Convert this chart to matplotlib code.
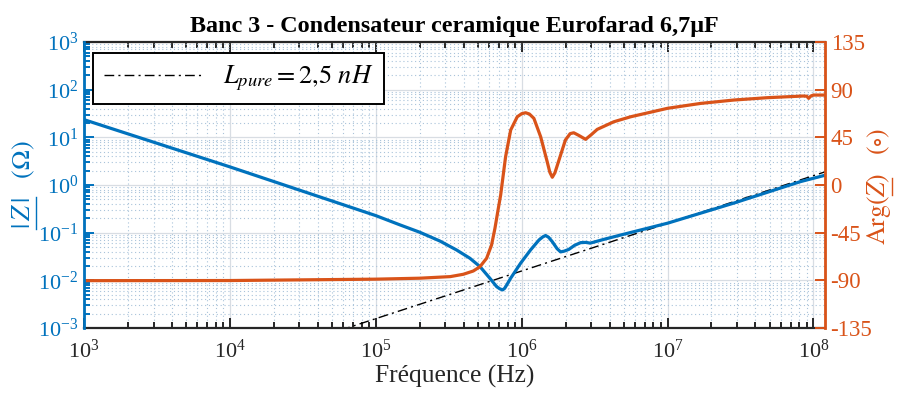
import numpy as np
import matplotlib
matplotlib.use('Agg')
import matplotlib.pyplot as plt
from matplotlib.lines import Line2D
from matplotlib.ticker import FixedLocator, FuncFormatter, LogLocator, NullFormatter

# |Z| (Ohm) versus frequency (Hz)
freq_mag = [1e3, 1e4, 1e5, 1.47e5, 2.01e5, 2.75e5, 3.58e5, 4.42e5, 5.18e5, 6.06e5,
            6.73e5, 7.1e5, 7.41e5, 7.65e5, 7.9e5, 8.41e5, 9.84e5, 1.153e6, 1.318e6,
            1.40e6, 1.459e6, 1.53e6, 1.622e6, 1.75e6, 1.849e6, 1.96e6, 2.109e6, 2.3e6,
            2.535e6, 2.75e6, 2.951e6, 3.664e6, 4.764e6, 1e7, 2.844e7, 8.128e7, 1.2e8]
mag = [23.5, 2.4, 0.228, 0.145, 0.1016, 0.0668, 0.0433, 0.029, 0.0194, 0.011,
       0.0074, 0.0066, 0.0063, 0.0068, 0.0080, 0.0111, 0.0229, 0.0437, 0.0708,
       0.082, 0.0871, 0.080, 0.0646, 0.046, 0.0395, 0.041, 0.0447, 0.054,
       0.0617, 0.0625, 0.0603, 0.0724, 0.0891, 0.158, 0.417, 1.175, 1.60]

# Arg(Z) (degrees) versus frequency (Hz)
freq_arg = [1e3, 1e4, 1e5, 2e5, 3.24e5, 3.98e5, 4.66e5, 5.18e5, 5.75e5, 6.22e5,
            6.56e5, 6.92e5, 7.18e5, 7.76e5, 8.41e5, 9.33e5, 1.0e6, 1.064e6, 1.13e6,
            1.213e6, 1.349e6, 1.496e6, 1.56e6, 1.622e6, 1.69e6, 1.803e6, 1.995e6,
            2.15e6, 2.275e6, 2.45e6, 2.742e6, 3.0e6, 3.296e6, 4.285e6, 5.585e6, 1e7,
            1.683e7, 2.844e7, 4.808e7, 8.51e7, 9.0e7, 9.27e7, 9.6e7, 1e8, 1.2e8]
arg = [-90.3, -90.2, -88.9, -88.0, -86.5, -84.3, -81.2, -77.1, -69.2, -56.6,
       -40.9, -22.0, -9.4, 26.7, 51.9, 64.4, 67.3, 68.2, 67.0,
       62.9, 45.6, 22.0, 12.0, 7.3, 11.5, 23.6, 42.5,
       48.5, 49.3, 47.0, 43.1, 47.5, 52.5, 59.7, 64.4, 72.4,
       77.0, 80.2, 82.4, 84.0, 83.8, 81.8, 84.0, 84.9, 84.9]

# pure inductance reference
L_pure = 2.5e-9
freq_L = np.array([1e3, 1.2e8])

blue = '#0072BD'
orange = '#D95319'
grey = '#262626'

plt.rcParams['font.family'] = ['Liberation Serif', 'DejaVu Serif']
plt.rcParams['mathtext.fontset'] = 'stix'

fig = plt.figure(figsize=(8.99, 3.98), dpi=100)
ax = fig.add_axes([0.0934, 0.1759, 0.8243, 0.7186])
ax2 = ax.twinx()

ax.set_xscale('log')
ax.set_yscale('log')
ax.set_xlim(1e3, 1.2e8)
ax.set_ylim(1e-3, 1e3)

# grid
ax.grid(True, which='major', color='#d8dde3', linewidth=0.9)
ax.grid(True, which='minor', color='#a9c3da', linestyle=(0, (1, 2.5)), linewidth=0.8)
ax.set_axisbelow(True)

line_L, = ax.plot(freq_L, 2 * np.pi * freq_L * L_pure, color='black', linewidth=1.0,
                  linestyle=(0, (7, 3, 1.5, 3)))
ax.plot(freq_mag, mag, color=blue, linewidth=2.3)

ax2.plot(freq_arg, arg, color=orange, linewidth=2.3)
ax2.set_ylim(-135, 135)
ax2.yaxis.set_major_locator(FixedLocator([-135, -90, -45, 0, 45, 90, 135]))
ax2.yaxis.set_major_formatter(FuncFormatter(lambda v, p: '%d' % v))

# ticks
ax.xaxis.set_major_locator(LogLocator(base=10, numticks=10))
ax.xaxis.set_minor_locator(LogLocator(base=10, subs=np.arange(2, 10), numticks=20))
ax.yaxis.set_major_locator(LogLocator(base=10, numticks=10))
ax.yaxis.set_minor_locator(LogLocator(base=10, subs=np.arange(2, 10), numticks=20))
ax.xaxis.set_minor_formatter(NullFormatter())
ax.yaxis.set_minor_formatter(NullFormatter())

ax.tick_params(axis='x', which='both', direction='in', top=True, colors=grey,
               labelsize=16, width=1.4)
ax.tick_params(axis='x', which='major', length=7, pad=8)
ax.tick_params(axis='x', which='minor', length=4)
ax.tick_params(axis='y', which='both', direction='in', colors=blue,
               labelsize=16, width=1.4)
ax.tick_params(axis='y', which='major', length=7, pad=4)
ax.tick_params(axis='y', which='minor', length=4)
ax2.tick_params(axis='y', which='both', direction='in', colors=orange,
                labelsize=16.5, width=1.4, length=7, pad=4)

for s in ['top', 'bottom']:
    ax.spines[s].set_color(grey)
    ax.spines[s].set_linewidth(1.6)
ax2.spines['left'].set_color(blue)
ax2.spines['left'].set_linewidth(2.0)
ax2.spines['right'].set_color(orange)
ax2.spines['right'].set_linewidth(2.0)
ax2.spines['top'].set_visible(False)
ax2.spines['bottom'].set_visible(False)

ax.set_xlabel('Fréquence (Hz)', fontsize=18.4, color=grey, labelpad=2)
ax.set_title('Banc 3 - Condensateur ceramique Eurofarad 6,7\u03bcF',
             fontsize=17.4, fontweight='bold', color='black', pad=7)

leg = ax2.legend([line_L], [r'$L_{pure} = 2{,}5\ nH$'], loc='upper left',
                 bbox_to_anchor=(0.012, 0.962), fontsize=19,
                 handlelength=3.7, handletextpad=0.8, fancybox=False, framealpha=1,
                 edgecolor='black', borderpad=0.42, borderaxespad=0)
leg.get_frame().set_linewidth(1.4)


def underlined_label(x, y, full, before, upto, color, size):
    # rotated label whose part [before, upto) gets a line under it
    t = fig.text(x, y, full, rotation=90, ha='center', va='center',
                 color=color, fontsize=size)
    fig.canvas.draw()
    r = fig.canvas.get_renderer()
    bb = t.get_window_extent(r)
    fp = t.get_fontproperties()
    w0 = r.get_text_width_height_descent(before, fp, ismath=True)[0] if before else 0
    w1 = r.get_text_width_height_descent(upto, fp, ismath=True)[0]
    W, H = fig.bbox.width, fig.bbox.height
    xl = (bb.x1 - 1.5) / W
    fig.add_artist(Line2D([xl, xl], [(bb.y0 + w0) / H, (bb.y0 + w1) / H],
                          transform=fig.transFigure, color=color, linewidth=1.0))


underlined_label(24 / 899, 1 - 185 / 398, r'$|\,Z\,|\quad(\Omega)$', '',
                 r'$|\,Z\,|$', blue, 19)
underlined_label(879 / 899, 1 - 186 / 398, r'$\mathrm{Arg}(Z)\quad(\circ)$',
                 r'$\mathrm{Arg}($', r'$\mathrm{Arg}(Z$', orange, 18.5)

fig.savefig('out.png', dpi=100)
